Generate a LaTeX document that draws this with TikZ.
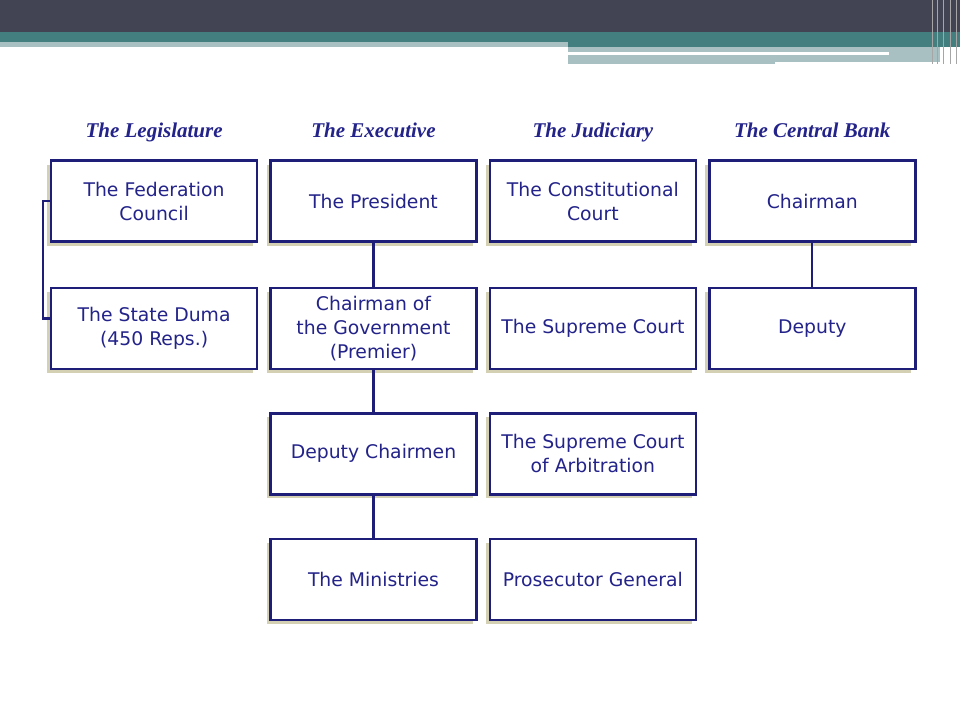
\documentclass[tikz,border=0pt]{standalone}
\usepackage{fontspec}
\setmainfont{DejaVu Sans}
\newfontfamily\headfont{Liberation Serif}
\usepackage{xcolor}
\usepackage{tikz}
\usetikzlibrary{positioning, shadows}
\definecolor{navy}{HTML}{23238A}
\definecolor{boxline}{HTML}{1E1E78}
\definecolor{shadowgold}{HTML}{D3D0B4}
\definecolor{bannerdark}{HTML}{434453}
\definecolor{bannerteal}{HTML}{447F80}
\definecolor{bannerlight}{HTML}{A8C0C1}

\begin{document}
\begin{tikzpicture}[x=1pt, y=-1pt,
  orgbox/.style={draw=boxline, line width=2.4pt, fill=white, inner sep=0pt,
    minimum width=206pt, minimum height=81pt, align=center, text=navy,
    font=\fontsize{18.8}{24}\selectfont,
    drop shadow={shadow xshift=-4pt, shadow yshift=-4pt, fill=shadowgold, opacity=1}},
  colhead/.style={font=\headfont\bfseries\itshape\fontsize{21}{24}\selectfont, text=navy,
    inner sep=0pt, text height=15pt, text depth=5pt},
  link/.style={draw=boxline, line width=2.2pt}]
  \useasboundingbox (0,0) rectangle (960,720);
  %% slide banner
  \fill[white] (0,0) rectangle (960,720);
  \fill[bannerdark] (0,0) rectangle (960,32);
  \fill[bannerteal] (0,32) rectangle (960,42);
  \fill[bannerlight] (0,42) rectangle (568,47);
  \fill[bannerteal] (568,42) rectangle (960,47);
  \fill[bannerlight] (568,47) rectangle (775,64);
  \fill[bannerlight] (775,47) rectangle (940,62);
  \fill[white] (568,52) rectangle (889,54.5);
  \foreach \sx in {932,937,943,950,956}{
    \draw[gray!70, line width=1pt] (\sx,0) -- (\sx,64);
  }
  %% top row
  \node[orgbox] (president) at (373.5,201) {The President};
  \node[orgbox, left=11pt of president] (fedcouncil) {The Federation\\Council};
  \node[orgbox, right=11pt of president] (constcourt) {The Constitutional\\Court};
  \node[orgbox, right=11pt of constcourt] (cbchair) {Chairman};
  %% lower rows
  \node[orgbox, below=44pt of fedcouncil] (duma) {The State Duma\\(450 Reps.)};
  \node[orgbox, below=44pt of president] (premier) {Chairman of\\the Government\\(Premier)};
  \node[orgbox, below=42pt of premier] (deputies) {Deputy Chairmen};
  \node[orgbox, below=42pt of deputies] (ministries) {The Ministries};
  \node[orgbox, below=44pt of constcourt] (supreme) {The Supreme Court};
  \node[orgbox, below=42pt of supreme] (arbitration) {The Supreme Court\\of Arbitration};
  \node[orgbox, below=42pt of arbitration] (prosecutor) {Prosecutor General};
  \node[orgbox, below=44pt of cbchair] (cbdeputy) {Deputy};
  %% column headings
  \node[colhead, above=17pt of fedcouncil] (hlegis) {The Legislature};
  \node[colhead, above=17pt of president] (hexec) {The Executive};
  \node[colhead, above=17pt of constcourt] (hjudic) {The Judiciary};
  \node[colhead, above=17pt of cbchair] (hbank) {The Central Bank};
  %% connectors
  \draw[link] (president) -- (premier);
  \draw[link] (premier) -- (deputies);
  \draw[link] (deputies) -- (ministries);
  \draw[link] (cbchair) -- (cbdeputy);
  \draw[link] (fedcouncil.west) -- ++(-7,0) |- ([yshift=10pt]duma.west);
\end{tikzpicture}
\end{document}
